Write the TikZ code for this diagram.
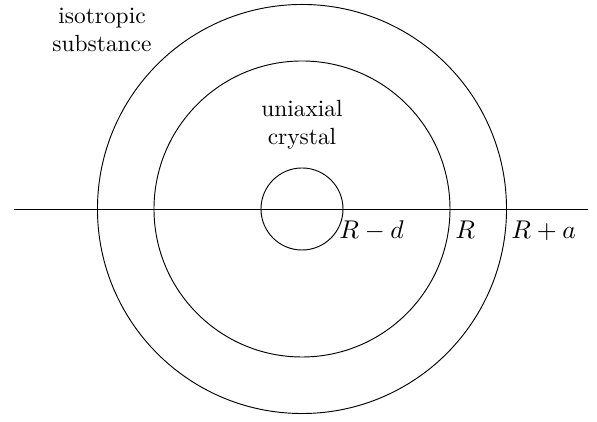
\documentclass[tikz,border=0pt]{standalone}
\usepackage{amsmath}
\usepackage{tikz}
\usetikzlibrary{positioning,calc}

\begin{document}
\begin{tikzpicture}[
        ring/.style={
            draw=black,
            circle,
            inner sep=0pt,
            line width=0.4pt
        },
        radlabel/.style={
            anchor=base west,
            inner sep=0pt,
            font=\fontsize{11}{13}\selectfont
        },
        note/.style={
            align=center,
            inner sep=0pt
        },
        axis/.style={line width=0.4pt, draw=black}
    ]
        \useasboundingbox (-4.536,-3.199) rectangle (4.431,3.139);

        \node[ring, minimum size=6.144cm] (outer) at (0,0) {};
        \node[ring, minimum size=4.446cm] (middle) at (0,0) {};
        \node[ring, minimum size=1.232cm] (inner) at (0,0) {};

        \coordinate (axisL) at (-4.326,0);
        \coordinate (axisR) at (4.296,0);
        \draw[axis] (axisL) -- (axisR);

        \node[note] (iso) at (-3.004,2.695) {isotropic\\substance};
        \node[note] (uni) at (0,1.263) {uniaxial\\crystal};

        \node[radlabel] (rd) at (0.556,-0.436) {$R-d$};
        \node[radlabel] (r) at (2.298,-0.436) {$R$};
        \node[radlabel] (ra) at (3.139,-0.436) {$R+a$};
    \end{tikzpicture}
\end{document}
